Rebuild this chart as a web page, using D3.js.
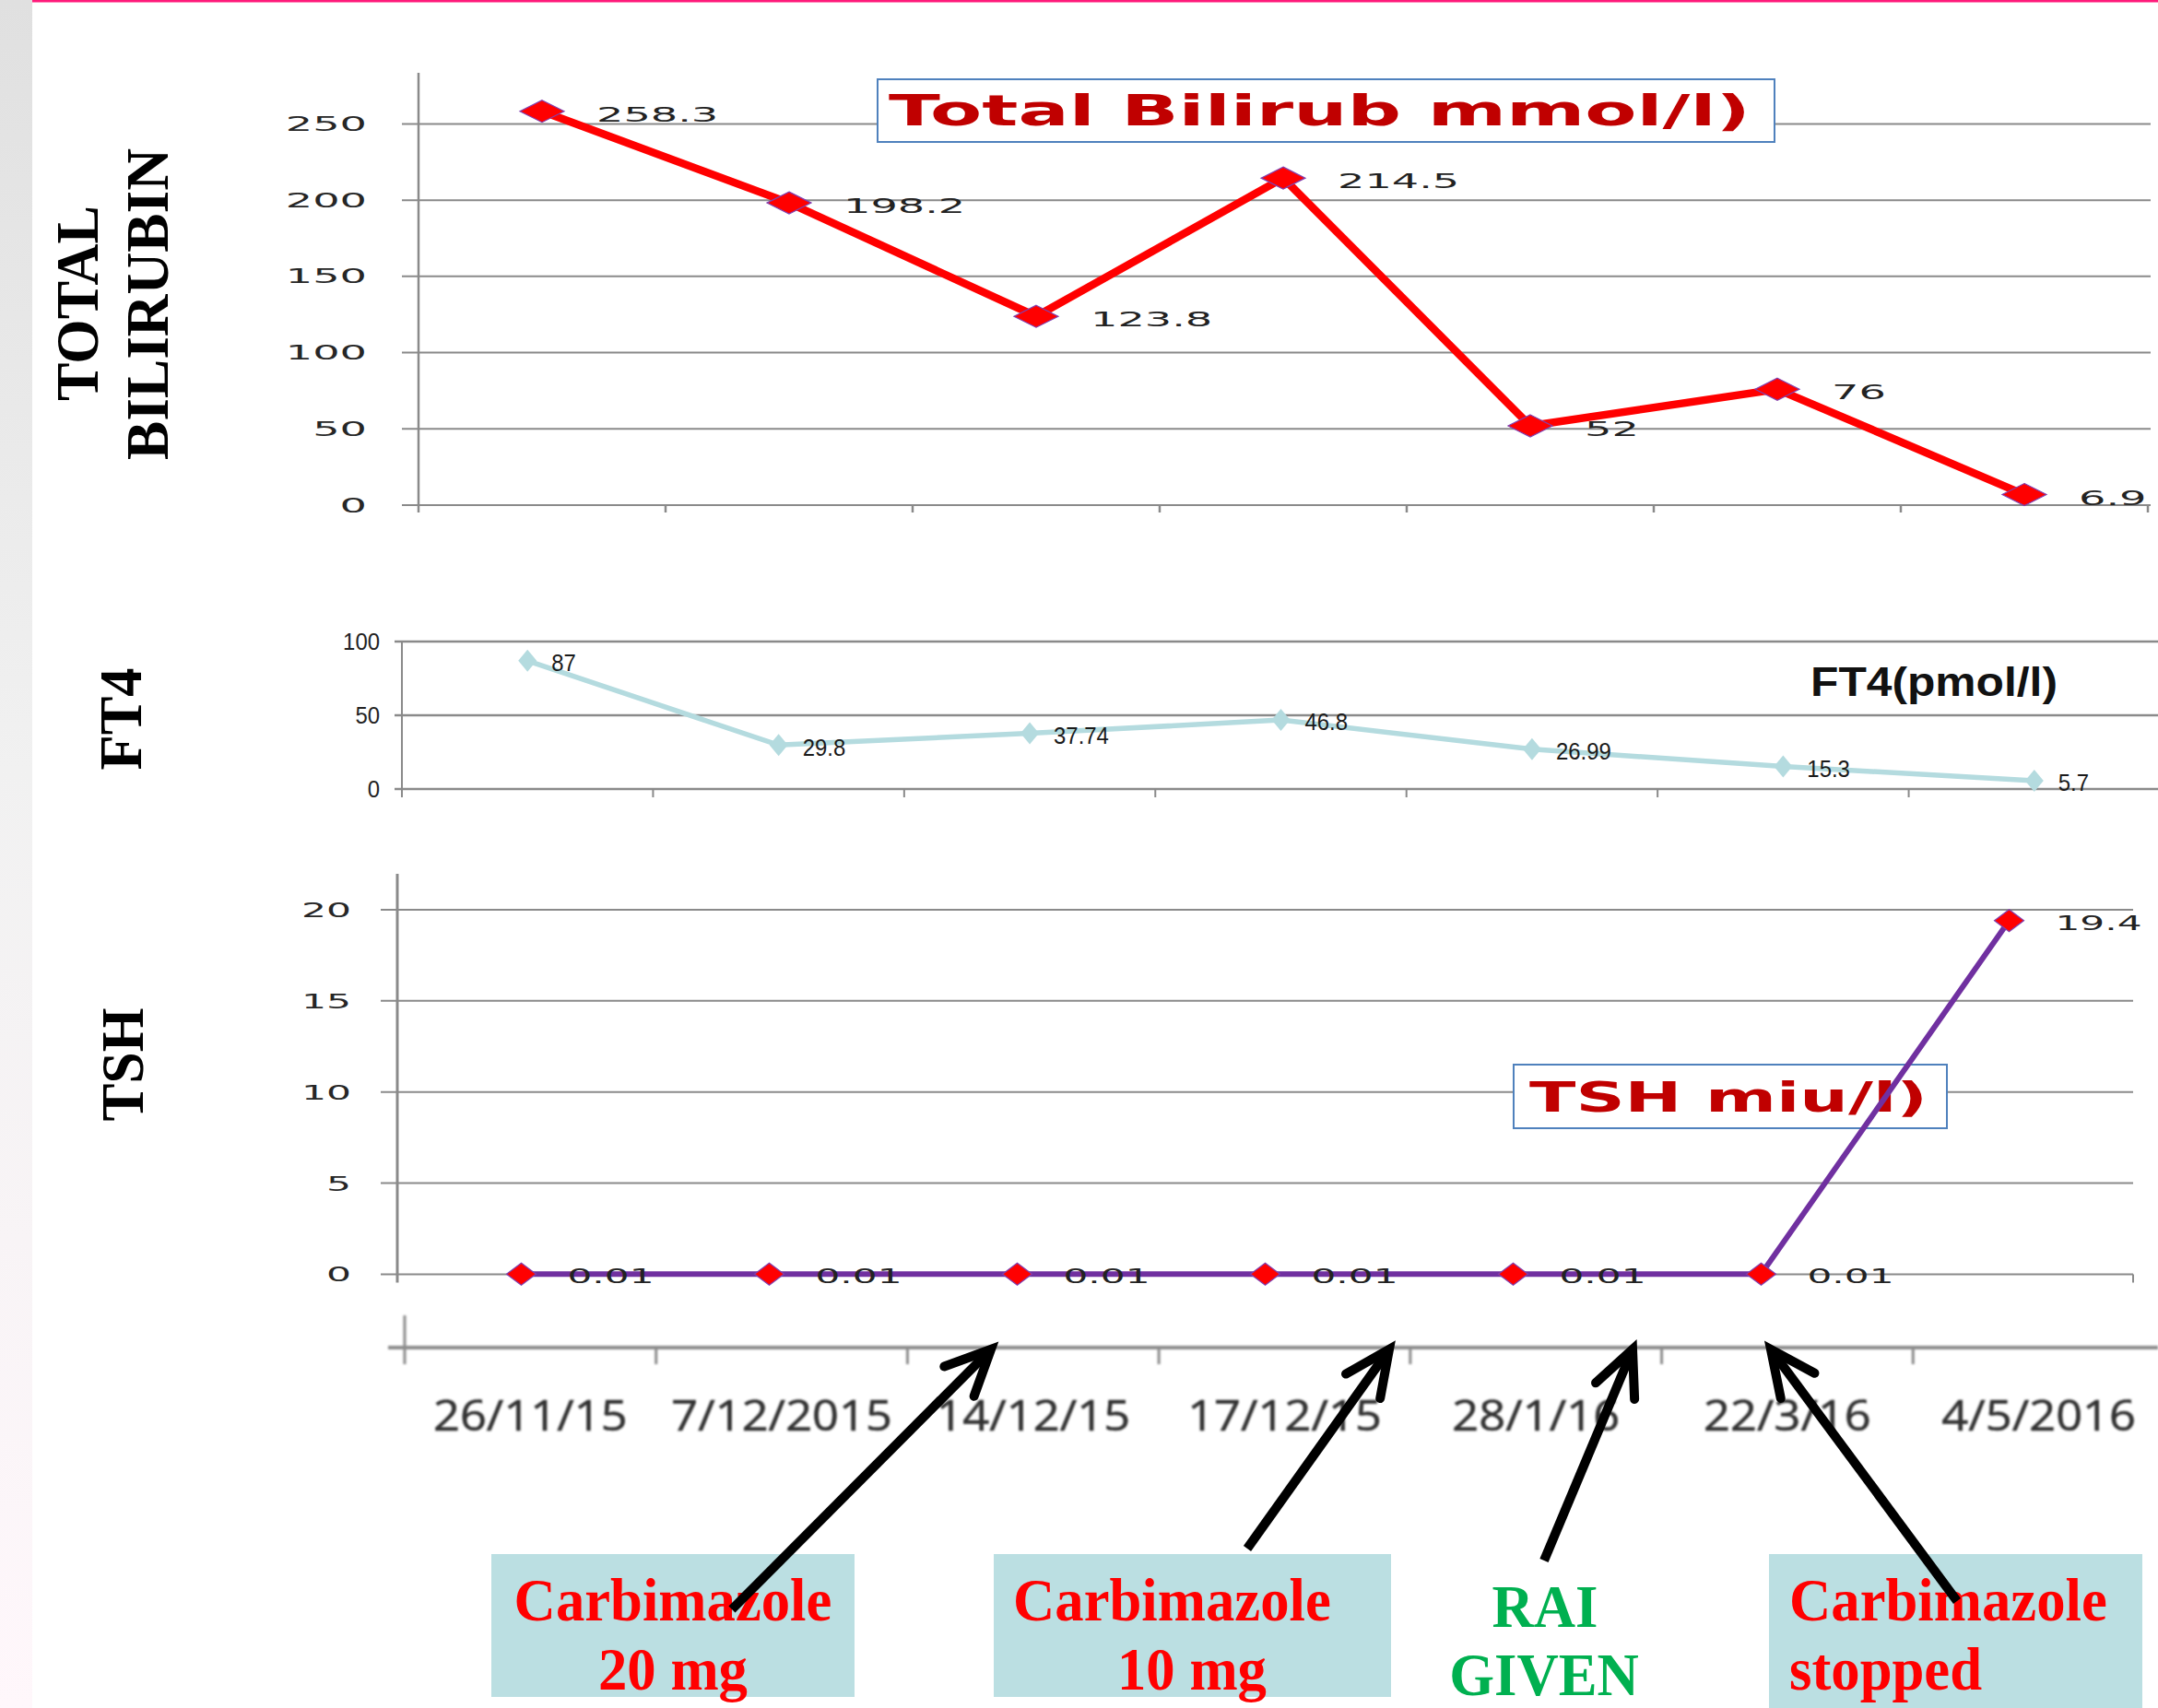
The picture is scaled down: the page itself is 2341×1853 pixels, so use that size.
<!DOCTYPE html>
<html>
<head>
<meta charset="utf-8">
<script src="https://cdn.jsdelivr.net/npm/d3@7"></script>
<style>
  html, body { margin: 0; padding: 0; background: #fff; }
  svg { display: block; }
</style>
</head>
<body>
<script>
// Visit dates and lab results
const dates = ["26/11/15", "7/12/2015", "14/12/15", "17/12/15", "28/1/16", "22/3/16", "4/5/2016"];
const bilirubin = [258.3, 198.2, 123.8, 214.5, 52, 76, 6.9];
const ft4 = [87, 29.8, 37.74, 46.8, 26.99, 15.3, 5.7];
const tsh = [0.01, 0.01, 0.01, 0.01, 0.01, 0.01, 19.4];

const bilirubinTicks = [0, 50, 100, 150, 200, 250];
const ft4Ticks = [0, 50, 100];
const tshTicks = [0, 5, 10, 15, 20];

// Treatment events pointing at the date axis
const events = [
  { lines: ["Carbimazole", "20 mg"], color: "#ff0000" },
  { lines: ["Carbimazole", "10 mg"], color: "#ff0000" },
  { lines: ["RAI", "GIVEN"], color: "#00b050" },
  { lines: ["Carbimazole", "stopped"], color: "#ff0000" }
];

const W = 2341, H = 1853;
const svg = d3.select("body").append("svg").attr("width", W).attr("height", H);
const defs = svg.append("defs");

const grad = defs.append("linearGradient").attr("id", "strip").attr("x1", 0).attr("y1", 0).attr("x2", 0).attr("y2", 1);
grad.append("stop").attr("offset", "0%").attr("stop-color", "#e0e0e0");
grad.append("stop").attr("offset", "45%").attr("stop-color", "#f1f1f1");
grad.append("stop").attr("offset", "100%").attr("stop-color", "#fff7fb");
defs.append("filter").attr("id", "soft").append("feGaussianBlur").attr("stdDeviation", 0.9);

// page frame
svg.append("rect").attr("x", 0).attr("y", 0).attr("width", 35).attr("height", H).attr("fill", "url(#strip)");
svg.append("rect").attr("x", 35).attr("y", 0).attr("width", W - 35).attr("height", 2.5).attr("fill", "#ff1a7a");

// stretch text horizontally by a factor
function stretch(sel, k) {
  sel.each(function () {
    const w = this.getComputedTextLength();
    d3.select(this).attr("textLength", w * k).attr("lengthAdjust", "spacingAndGlyphs");
  });
}
function fit(sel, len) {
  sel.attr("textLength", len).attr("lengthAdjust", "spacingAndGlyphs");
}
const diamond = (w, h) => `M0,${-h / 2}L${w / 2},0L0,${h / 2}L${-w / 2},0Z`;
const GRID = "#8a8a8a";

function yTitle(x, y, txt, len) {
  svg.append("text")
    .attr("transform", `translate(${x},${y}) rotate(-90)`)
    .attr("text-anchor", "middle")
    .attr("font-family", "Liberation Serif, Times New Roman, serif")
    .attr("font-weight", "bold").attr("font-size", 66).attr("fill", "#000")
    .text(txt).call(fit, len);
}

// ---------- Total bilirubin ----------
{
  const x = d3.scaleBand().domain(dates).range([454, 2330]);
  const y = d3.scaleLinear().domain([0, 283.5]).range([548, 79]);
  const g = svg.append("g");
  const cx = d => x(d) + x.bandwidth() / 2;

  g.selectAll("line.grid").data(bilirubinTicks).join("line")
    .attr("x1", 436).attr("x2", 2333).attr("y1", d => y(d)).attr("y2", d => y(d))
    .attr("stroke", GRID).attr("stroke-width", 2);
  g.append("line").attr("x1", 454).attr("x2", 454).attr("y1", y.range()[1]).attr("y2", y(0) + 8)
    .attr("stroke", GRID).attr("stroke-width", 2.5);
  g.selectAll("line.xt").data(dates.slice(1).concat(["end"])).join("line")
    .attr("x1", (d, i) => x.range()[0] + x.step() * (i + 1)).attr("x2", (d, i) => x.range()[0] + x.step() * (i + 1))
    .attr("y1", y(0)).attr("y2", y(0) + 8).attr("stroke", GRID).attr("stroke-width", 2.5);

  g.selectAll("text.tick").data(bilirubinTicks).join("text")
    .attr("x", 398).attr("y", d => y(d)).attr("dy", "0.36em").attr("text-anchor", "end")
    .attr("font-family", "DejaVu Sans, Verdana, sans-serif").attr("font-size", 21).attr("fill", "#262626")
    .text(d => d).call(stretch, 2.2);

  g.append("path").datum(bilirubin)
    .attr("d", d3.line().x((d, i) => cx(dates[i])).y(d => y(d)))
    .attr("fill", "none").attr("stroke", "#ff0000").attr("stroke-width", 8.5).attr("stroke-linejoin", "miter");
  g.selectAll("path.m").data(bilirubin).join("path")
    .attr("transform", (d, i) => `translate(${cx(dates[i])},${y(d)})`)
    .attr("d", diamond(48, 24)).attr("fill", "#ff0000").attr("stroke", "#8040b0").attr("stroke-width", 1.2);
  g.selectAll("text.lbl").data(bilirubin).join("text")
    .attr("x", (d, i) => cx(dates[i]) + 59).attr("y", d => y(d) + 3).attr("dy", "0.36em")
    .attr("font-family", "DejaVu Sans, Verdana, sans-serif").attr("font-size", 22).attr("fill", "#222")
    .text(d => d).call(stretch, 2.1);

  g.append("rect").attr("x", 952).attr("y", 86).attr("width", 973).attr("height", 68)
    .attr("fill", "#fff").attr("stroke", "#4f81bd").attr("stroke-width", 2);
  g.append("text").attr("x", 964).attr("y", 136)
    .attr("font-family", "DejaVu Sans, Verdana, sans-serif").attr("font-weight", "bold")
    .attr("font-size", 47).attr("fill", "#c00000")
    .text("Total Bilirub mmol/l)").call(fit, 935);

  yTitle(106, 329, "TOTAL", 212);
  yTitle(182, 330, "BILIRUBIN", 338);
}

// ---------- FT4 ----------
{
  const x = d3.scaleBand().domain(dates).range([436, 2343]);
  const y = d3.scaleLinear().domain([0, 100]).range([856, 696]);
  const g = svg.append("g");
  const cx = d => x(d) + x.bandwidth() / 2;
  const COL = "#b4dbdf";

  g.selectAll("line.grid").data(ft4Ticks).join("line")
    .attr("x1", 428).attr("x2", 2341).attr("y1", d => y(d)).attr("y2", d => y(d))
    .attr("stroke", GRID).attr("stroke-width", 2.5);
  g.append("line").attr("x1", 436).attr("x2", 436).attr("y1", y(100) - 1).attr("y2", y(0) + 9)
    .attr("stroke", GRID).attr("stroke-width", 2);
  g.selectAll("line.xt").data(dates.slice(1).concat(["end"])).join("line")
    .attr("x1", (d, i) => x.range()[0] + x.step() * (i + 1)).attr("x2", (d, i) => x.range()[0] + x.step() * (i + 1))
    .attr("y1", y(0)).attr("y2", y(0) + 9).attr("stroke", GRID).attr("stroke-width", 2);

  g.selectAll("text.tick").data(ft4Ticks).join("text")
    .attr("x", 412).attr("y", d => y(d)).attr("dy", "0.36em").attr("text-anchor", "end")
    .attr("font-family", "Liberation Sans, Arial, sans-serif").attr("font-size", 26).attr("fill", "#222")
    .text(d => d).call(stretch, 0.92);

  g.append("path").datum(ft4)
    .attr("d", d3.line().x((d, i) => cx(dates[i])).y(d => y(d)))
    .attr("fill", "none").attr("stroke", COL).attr("stroke-width", 5.5);
  g.selectAll("path.m").data(ft4).join("path")
    .attr("transform", (d, i) => `translate(${cx(dates[i])},${y(d)})`)
    .attr("d", diamond(20, 24)).attr("fill", COL);
  g.selectAll("text.lbl").data(ft4).join("text")
    .attr("x", (d, i) => cx(dates[i]) + 26).attr("y", d => y(d) + 2).attr("dy", "0.36em")
    .attr("font-family", "Liberation Sans, Arial, sans-serif").attr("font-size", 26).attr("fill", "#1a1a1a")
    .text(d => d).call(stretch, 0.92);

  g.append("text").attr("x", 1964).attr("y", 755)
    .attr("font-family", "Liberation Sans, Arial, sans-serif").attr("font-weight", "bold")
    .attr("font-size", 45).attr("fill", "#111")
    .text("FT4(pmol/l)").call(fit, 268);

  yTitle(153, 780, "FT4", 111);
}

// ---------- TSH ----------
{
  const x = d3.scaleBand().domain(dates).range([431, 2314]);
  const y = d3.scaleLinear().domain([0, 21.97]).range([1382.5, 948]);
  const g = svg.append("g");
  const cx = d => x(d) + x.bandwidth() / 2;

  g.selectAll("line.grid").data(tshTicks).join("line")
    .attr("x1", 413).attr("x2", 2314).attr("y1", d => y(d)).attr("y2", d => y(d))
    .attr("stroke", GRID).attr("stroke-width", 2);
  g.append("line").attr("x1", 431).attr("x2", 431).attr("y1", y.range()[1]).attr("y2", y(0) + 9)
    .attr("stroke", GRID).attr("stroke-width", 3);
  g.append("line").attr("x1", 2314).attr("x2", 2314).attr("y1", y(0)).attr("y2", y(0) + 9)
    .attr("stroke", GRID).attr("stroke-width", 2);

  g.selectAll("text.tick").data(tshTicks).join("text")
    .attr("x", 381).attr("y", d => y(d)).attr("dy", "0.36em").attr("text-anchor", "end")
    .attr("font-family", "DejaVu Sans, Verdana, sans-serif").attr("font-size", 22).attr("fill", "#262626")
    .text(d => d).call(stretch, 1.93);

  g.append("rect").attr("x", 1642).attr("y", 1155).attr("width", 470).attr("height", 69)
    .attr("fill", "#fff").attr("stroke", "#4f81bd").attr("stroke-width", 2);
  g.append("text").attr("x", 1659).attr("y", 1206)
    .attr("font-family", "DejaVu Sans, Verdana, sans-serif").attr("font-weight", "bold")
    .attr("font-size", 44).attr("fill", "#c00000")
    .text("TSH miu/l)").call(fit, 432);

  g.append("path").datum(tsh)
    .attr("d", d3.line().x((d, i) => cx(dates[i])).y(d => y(d)))
    .attr("fill", "none").attr("stroke", "#7030a0").attr("stroke-width", 6);
  g.selectAll("path.m").data(tsh).join("path")
    .attr("transform", (d, i) => `translate(${cx(dates[i])},${y(d)})`)
    .attr("d", diamond(32, 24)).attr("fill", "#ff0000").attr("stroke", "#8040b0").attr("stroke-width", 1.2);
  g.selectAll("text.lbl").data(tsh).join("text")
    .attr("x", (d, i) => cx(dates[i]) + 50).attr("y", d => y(d) + 2).attr("dy", "0.36em")
    .attr("font-family", "DejaVu Sans, Verdana, sans-serif").attr("font-size", 22).attr("fill", "#222")
    .text(d => d).call(stretch, 1.92);

  yTitle(155, 1155, "TSH", 123);
}

// ---------- date axis ----------
{
  const x = d3.scaleBand().domain(dates).range([439, 2348]);
  const g = svg.append("g").attr("filter", "url(#soft)");
  const yA = 1462;
  g.append("line").attr("x1", 421).attr("x2", W).attr("y1", yA).attr("y2", yA)
    .attr("stroke", "#8c8c8c").attr("stroke-width", 4);
  g.selectAll("line.t").data(dates).join("line")
    .attr("x1", d => x(d)).attr("x2", d => x(d))
    .attr("y1", (d, i) => i === 0 ? yA - 35 : yA).attr("y2", yA + 18)
    .attr("stroke", "#8c8c8c").attr("stroke-width", 3);
  g.selectAll("text.c").data(dates).join("text")
    .attr("x", d => x(d) + x.bandwidth() / 2).attr("y", 1552).attr("text-anchor", "middle")
    .attr("font-family", "Open Sans, sans-serif").attr("font-size", 46).attr("fill", "#333")
    .attr("stroke", "#333").attr("stroke-width", 0.6)
    .text(d => d).call(stretch, 1.1);
}

// ---------- treatment notes ----------
{
  const g = svg.append("g");
  const boxes = [
    { x: 533, y: 1686, w: 394, h: 155 },
    { x: 1078, y: 1686, w: 431, h: 155 },
    null,
    { x: 1919, y: 1686, w: 405, h: 167 }
  ];
  const textPos = [
    [{ x: 730, y: 1758, a: "middle" }, { x: 730, y: 1833, a: "middle" }],
    [{ x: 1099, y: 1758, a: "start" }, { x: 1212, y: 1833, a: "start" }],
    [{ x: 1676, y: 1765, a: "middle" }, { x: 1675, y: 1839, a: "middle" }],
    [{ x: 1941, y: 1758, a: "start" }, { x: 1941, y: 1833, a: "start" }]
  ];
  events.forEach((ev, i) => {
    if (boxes[i]) {
      g.append("rect").attr("x", boxes[i].x).attr("y", boxes[i].y)
        .attr("width", boxes[i].w).attr("height", boxes[i].h).attr("fill", "#bbdfe2");
    }
    ev.lines.forEach((t, j) => {
      g.append("text").attr("x", textPos[i][j].x).attr("y", textPos[i][j].y)
        .attr("text-anchor", textPos[i][j].a)
        .attr("font-family", "Liberation Serif, Times New Roman, serif")
        .attr("font-weight", "bold").attr("font-size", 66).attr("fill", ev.color)
        .text(t).call(stretch, 0.95);
    });
  });

  // arrows from each note up to the axis
  const arrows = [
    { from: [794, 1746], to: [1075, 1464] },
    { from: [1353, 1680], to: [1507, 1464] },
    { from: [1675, 1693], to: [1771, 1464] },
    { from: [2123, 1737], to: [1921, 1464] }
  ];
  arrows.forEach(a => {
    const [x0, y0] = a.from, [x1, y1] = a.to;
    const ang = Math.atan2(y0 - y1, x0 - x1);
    const L = 54, spread = 25 * Math.PI / 180;
    const p1 = [x1 + L * Math.cos(ang + spread), y1 + L * Math.sin(ang + spread)];
    const p2 = [x1 + L * Math.cos(ang - spread), y1 + L * Math.sin(ang - spread)];
    g.append("line").attr("x1", x0).attr("y1", y0).attr("x2", x1).attr("y2", y1)
      .attr("stroke", "#000").attr("stroke-width", 10).attr("stroke-linecap", "butt");
    g.append("path").attr("d", `M${p1[0]},${p1[1]}L${x1},${y1}L${p2[0]},${p2[1]}`)
      .attr("fill", "none").attr("stroke", "#000").attr("stroke-width", 10)
      .attr("stroke-linecap", "round").attr("stroke-linejoin", "miter");
  });
}
</script>
</body>
</html>
